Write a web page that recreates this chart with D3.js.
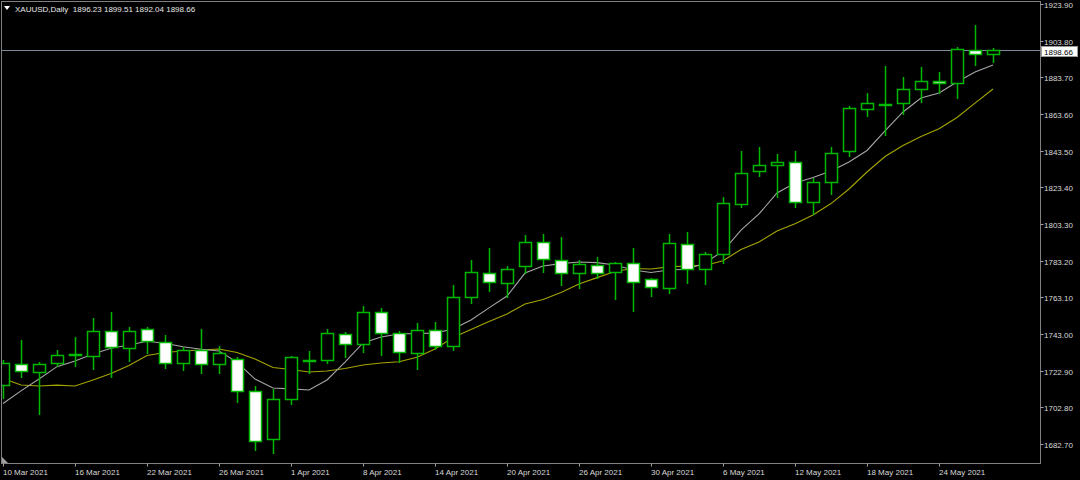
<!DOCTYPE html>
<html>
<head>
<meta charset="utf-8">
<script src="https://cdn.jsdelivr.net/npm/d3@7"></script>
<style>
  html, body { margin: 0; padding: 0; background: #000; }
  svg { display: block; }
  text { font-family: "Liberation Sans", Arial, sans-serif; font-size: 8px; }
</style>
</head>
<body>
<svg id="chart" width="1080" height="480"></svg>
<script>
// ---------- data ----------
const symbol = "XAUUSD,Daily";
const dates = [
  "2021-03-10","2021-03-11","2021-03-12","2021-03-15","2021-03-16","2021-03-17","2021-03-18","2021-03-19",
  "2021-03-22","2021-03-23","2021-03-24","2021-03-25","2021-03-26","2021-03-29","2021-03-30","2021-03-31",
  "2021-04-01","2021-04-05","2021-04-06","2021-04-07","2021-04-08","2021-04-09","2021-04-12","2021-04-13",
  "2021-04-14","2021-04-15","2021-04-16","2021-04-19","2021-04-20","2021-04-21","2021-04-22","2021-04-23",
  "2021-04-26","2021-04-27","2021-04-28","2021-04-29","2021-04-30","2021-05-03","2021-05-04","2021-05-05",
  "2021-05-06","2021-05-07","2021-05-10","2021-05-11","2021-05-12","2021-05-13","2021-05-14","2021-05-17",
  "2021-05-18","2021-05-19","2021-05-20","2021-05-21","2021-05-24","2021-05-25","2021-05-26","2021-05-27"
];
const open = [
  1715.0,1726.4,1722.3,1726.9,1731.9,1731.1,1744.8,1735.1,
  1745.6,1738.8,1726.9,1734.2,1726.6,1729.3,1711.9,1685.4,
  1707.4,1728.8,1728.6,1743.0,1737.4,1755.2,1743.7,1732.4,
  1745.2,1736.4,1763.4,1776.6,1770.8,1780.4,1793.6,1783.6,
  1776.3,1780.8,1776.8,1781.8,1773.0,1768.4,1792.3,1778.5,
  1786.9,1814.3,1832.5,1835.6,1837.1,1815.5,1826.1,1843.5,
  1866.2,1869.1,1869.5,1877.1,1881.8,1880.4,1898.7,1896.23
];
const high = [
  1728.7,1739.7,1727.8,1734.2,1741.2,1751.6,1755.2,1746.7,
  1747.0,1742.5,1736.0,1745.6,1736.4,1730.4,1714.5,1712.7,
  1730.9,1733.7,1745.6,1744.3,1758.5,1757.1,1744.6,1749.2,
  1749.7,1769.9,1783.6,1790.0,1780.3,1797.3,1797.8,1796.0,
  1783.6,1785.4,1782.6,1790.0,1773.9,1797.8,1799.1,1787.8,
  1818.3,1843.3,1845.3,1841.7,1843.3,1828.7,1845.7,1868.2,
  1874.9,1889.9,1883.7,1889.2,1886.8,1900.1,1912.4,1899.51
];
const low = [
  1707.9,1719.4,1699.1,1725.6,1725.6,1723.8,1719.3,1728.4,
  1732.4,1724.5,1723.3,1721.5,1721.5,1705.6,1679.4,1677.9,
  1704.6,1721.5,1727.3,1730.6,1733.3,1731.5,1727.8,1723.6,
  1734.8,1734.2,1759.8,1766.7,1763.4,1776.3,1777.2,1769.9,
  1768.4,1773.7,1762.2,1755.8,1764.0,1765.6,1770.8,1770.4,
  1782.1,1812.8,1829.8,1817.9,1812.8,1808.6,1819.6,1840.7,
  1862.7,1852.1,1863.6,1870.0,1874.9,1872.5,1890.5,1892.04
];
const close = [
  1727.1,1722.7,1726.6,1731.5,1732.0,1744.8,1736.0,1744.8,
  1739.0,1726.9,1734.2,1726.6,1732.4,1711.8,1684.5,1707.2,
  1730.2,1728.5,1743.4,1737.5,1755.2,1743.4,1733.0,1745.2,
  1736.4,1763.4,1776.8,1771.3,1778.5,1793.3,1784.1,1776.3,
  1781.2,1776.3,1781.7,1771.7,1768.6,1792.7,1778.5,1786.7,
  1814.6,1831.1,1835.6,1837.3,1815.4,1826.1,1842.4,1866.7,
  1869.5,1869.2,1877.1,1881.7,1880.8,1899.0,1896.3,1898.66
];
// fast moving average (grey) and slow moving average (olive)
const maFast = [
  1704.9,1711.8,1718.3,1725.1,1728.2,1732.0,1735.2,1737.0,
  1739.0,1737.9,1736.0,1734.6,1733.7,1727.6,1718.3,1713.4,
  1712.9,1712.3,1717.8,1727.6,1738.1,1741.4,1743.0,1743.3,
  1743.5,1745.7,1750.7,1757.3,1763.8,1776.4,1780.3,1781.6,
  1782.5,1782.1,1780.8,1778.1,1776.7,1778.1,1778.5,1781.9,
  1788.5,1800.0,1808.8,1820.3,1825.8,1828.8,1832.4,1837.3,
  1843.6,1854.3,1864.7,1872.4,1875.1,1881.1,1886.6,1890.5
];
const maSlow = [
  1718.6,1715.0,1714.5,1715.0,1714.5,1717.8,1721.3,1725.7,
  1731.2,1732.9,1733.7,1734.2,1734.8,1732.9,1729.3,1724.6,
  1723.5,1722.2,1722.7,1724.1,1726.0,1727.1,1727.8,1730.2,
  1734.8,1741.1,1745.5,1749.9,1754.0,1759.4,1761.9,1765.8,
  1770.4,1773.9,1777.3,1778.9,1778.6,1779.8,1780.3,1780.6,
  1783.2,1789.3,1793.4,1799.5,1803.4,1808.2,1814.5,1822.5,
  1831.8,1840.3,1846.3,1851.3,1855.5,1861.7,1869.6,1877.3
];
const yTickLabels = ["1682.70","1702.80","1722.90","1743.00","1763.10","1783.20","1803.30",
                     "1823.40","1843.50","1863.60","1883.70","1903.80","1923.90"];
const xTickDates = ["2021-03-10","2021-03-16","2021-03-22","2021-03-26","2021-04-01","2021-04-08","2021-04-14",
                    "2021-04-20","2021-04-26","2021-04-30","2021-05-06","2021-05-12","2021-05-18","2021-05-24"];
const lastPrice = 1898.66;

// ---------- layout ----------
const svg = d3.select("#chart");
const W = 1080, H = 480;
const frame = {left: 1.5, top: 1.5, right: 1040.5, bottom: 463.5};

svg.append("rect").attr("width", W).attr("height", H).attr("fill", "#000");

const x = d3.scalePoint().domain(dates).range([3, 993]);
const y = d3.scaleLinear().domain([1682.7, 1923.9]).range([444, 4]);

const green = "#00b800";
const parseD = d3.timeParse("%Y-%m-%d");
const fmtD = d3.timeFormat("%-d %b %Y");

// clip
svg.append("clipPath").attr("id", "plotclip")
  .append("rect").attr("x", 2).attr("y", 2).attr("width", 1038).attr("height", 461);
const plot = svg.append("g").attr("clip-path", "url(#plotclip)");

// bid line
plot.append("line")
  .attr("x1", frame.left).attr("x2", frame.right)
  .attr("y1", Math.round(y(lastPrice)) + 0.5).attr("y2", Math.round(y(lastPrice)) + 0.5)
  .attr("stroke", "#7d8a97").attr("stroke-width", 1);

// moving averages
const lineGen = arr => d3.line().x((d, i) => x(dates[i])).y(d => y(d))(arr);
plot.append("path").attr("d", lineGen(maSlow)).attr("fill", "none")
  .attr("stroke", "#a4a400").attr("stroke-width", 1.1);
plot.append("path").attr("d", lineGen(maFast)).attr("fill", "none")
  .attr("stroke", "#a6a6a6").attr("stroke-width", 1.1);

// candles
const bars = dates.map((d, i) => ({d, o: open[i], h: high[i], l: low[i], c: close[i]}));
const cg = plot.append("g");
bars.forEach(b => {
  const cx = x(b.d);
  cg.append("line")
    .attr("x1", cx + 0.5).attr("x2", cx + 0.5)
    .attr("y1", Math.round(y(b.h))).attr("y2", Math.round(y(b.l)) + 1)
    .attr("stroke", green).attr("stroke-width", 1.5);
  const top = Math.round(y(Math.max(b.o, b.c))) + 0.5;
  let bot = Math.round(y(Math.min(b.o, b.c))) + 0.5;
  if (bot - top < 1) bot = top + 1;
  const bear = b.c < b.o;
  cg.append("rect")
    .attr("x", cx - 5.5).attr("width", 12)
    .attr("y", top).attr("height", bot - top)
    .attr("fill", bear ? "#ffffff" : "#000000")
    .attr("stroke", green).attr("stroke-width", 1.5);
});

// frame
svg.append("rect")
  .attr("x", frame.left).attr("y", frame.top)
  .attr("width", frame.right - frame.left).attr("height", frame.bottom - frame.top)
  .attr("fill", "none").attr("stroke", "#808080").attr("stroke-width", 1);

// right axis
const ra = svg.append("g");
yTickLabels.forEach(t => {
  const yy = Math.round(y(+t)) + 0.5;
  ra.append("line").attr("x1", frame.right).attr("x2", frame.right + 3)
    .attr("y1", yy).attr("y2", yy).attr("stroke", "#a0a0a0");
  ra.append("text").attr("x", 1044).attr("y", yy + 3)
    .attr("fill", "#d8d8d8").text(t);
});
// last price label
const ly = Math.round(y(lastPrice)) + 0.5;
svg.append("rect").attr("x", 1041.5).attr("y", ly - 4).attr("width", 36).attr("height", 10)
  .attr("fill", "#ffffff").attr("stroke", "#9a9a9a").attr("stroke-width", 1);
svg.append("text").attr("x", 1044).attr("y", ly + 4).attr("fill", "#000").text(d3.format(".2f")(lastPrice));

// bottom axis
const ba = svg.append("g");
xTickDates.forEach(t => {
  const xx = x(t) + 0.5;
  ba.append("line").attr("x1", xx).attr("x2", xx)
    .attr("y1", frame.bottom).attr("y2", frame.bottom + 3).attr("stroke", "#a0a0a0");
  ba.append("text").attr("x", x(t)).attr("y", 474.5)
    .attr("fill", "#d8d8d8").text(fmtD(parseD(t)));
});

// shift marker (bottom-left)
svg.append("polygon").attr("points", "2,457 2,463 8,463").attr("fill", "#a0a0a0");

// header
svg.append("polygon").attr("points", "4,6 10,6 7,10").attr("fill", "#ffffff");
svg.append("text").attr("x", 15).attr("y", 11.5).attr("fill", "#e8e8e8")
  .attr("xml:space", "preserve").style("white-space", "pre")
  .text(symbol + "  " + [open[55], high[55], low[55], close[55]].map(d3.format(".2f")).join(" "));
</script>
</body>
</html>
